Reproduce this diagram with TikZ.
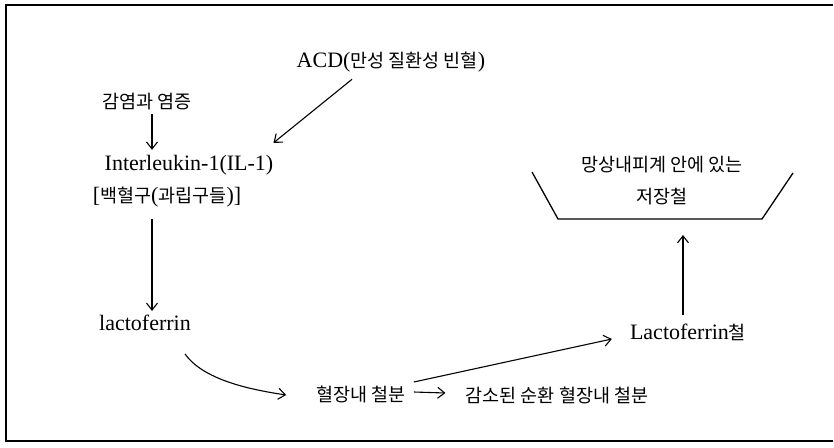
\documentclass[tikz,border=0pt]{standalone}
\usepackage{fontspec}
\setmainfont{Liberation Serif}
\newfontfamily\krfont{Noto Sans CJK KR}
\newcommand{\ko}[1]{{\krfont\fontsize{18.5}{22}\selectfont #1}}
\usetikzlibrary{arrows.meta}
\begin{document}
\begin{tikzpicture}[x=1pt,y=-1pt,
  lbl/.style={inner sep=2pt,font=\fontsize{22}{26}\selectfont},
  arr/.style={-{Straight Barb[length=7pt,width=11pt,line width=1.1pt]},line width=1.1pt},
  frame/.style={line width=1.3pt}]
\useasboundingbox (0,0) rectangle (834,447);
% frame
\draw[frame] (833,5) -- (6,5) -- (6,441) -- (833,441);
% nodes
\node[lbl] (acd) at (391,62) {ACD(\ko{만성 질환성 빈혈})};
\node[lbl] (inf) at (147,102) {\ko{감염과 염증}};
\node[lbl] (il1) at (189,165) {Interleukin-1(IL-1)};
\node[lbl] (wbc) at (167,197) {[\ko{백혈구}(\ko{과립구들})]};
\node[lbl] (lac) at (145,323) {lactoferrin};
\node[lbl] (plasma) at (361,394) {\ko{혈장내 철분}};
\node[lbl] (dec) at (557,395) {\ko{감소된 순환 혈장내 철분}};
\node[lbl] (lfe) at (688,332) {Lactoferrin\ko{철}};
\node[lbl] (res1) at (662,165) {\ko{망상내피계 안에 있는}};
\node[lbl] (res2) at (662,197) {\ko{저장철}};
% reservoir (trapezoid)
\coordinate (tl) at (532,172);
\coordinate (bl) at (558,219);
\coordinate (br) at (762,219);
\coordinate (tr) at (793,173);
\draw[line width=1.3pt] (tl) -- (bl) -- (br) -- (tr);
% connectors
\draw[arr] ([xshift=5pt,yshift=-1pt]inf.south) -- ([xshift=5pt,yshift=3pt]inf.south |- il1.north);
\draw[arr] ([xshift=-39pt,yshift=-5pt]acd.south) -- ([xshift=-2pt,yshift=10pt]il1.north east);
\draw[arr] ([xshift=-15pt,yshift=-10pt]wbc.south) -- ([xshift=7pt,yshift=2pt]lac.north);
\draw[arr] ([xshift=-8pt,yshift=-31pt]lac.east) .. controls +(18,25) and +(-40,-6) .. ([xshift=-28pt,yshift=-1pt]plasma.west);
\draw[arr] ([xshift=6pt,yshift=2pt]plasma.east) -- ([xshift=-18pt,yshift=2pt]dec.west);
\draw[arr] ([xshift=6pt,yshift=12pt]plasma.east) -- ([xshift=-16pt,yshift=-7pt]lfe.west);
\draw[arr] ([xshift=-5pt,yshift=6pt]lfe.north) -- ([xshift=-5pt,yshift=-16pt]lfe.north |- br);
\end{tikzpicture}
\end{document}
